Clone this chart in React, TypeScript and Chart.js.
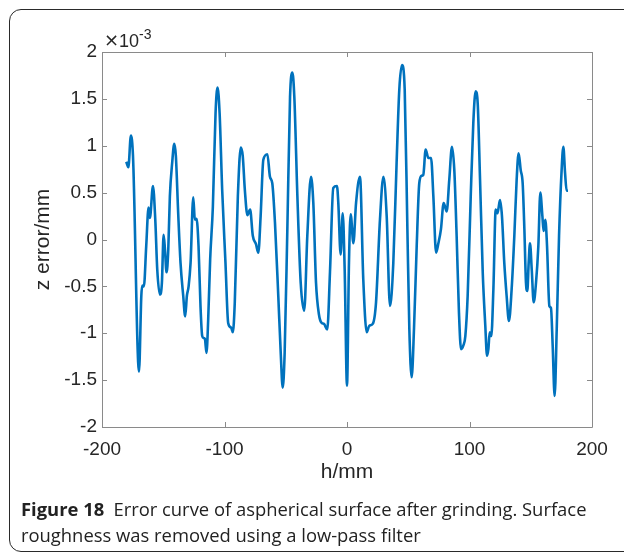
import React, { useEffect, useRef } from 'react';
import { Chart, registerables } from 'chart.js';

Chart.register(...registerables);

// h position (mm)
const hMm = [
  -180.2, -178.5, -176.4, -174.7, -169.8, -167.9, -167.1, -165.8, -163.9, -162, -160.9, -158.4, -156.5,
  -154.9, -152.7, -151.1, -149.7, -148.6, -147.3, -145.9, -144.6, -142.7, -141, -139.7, -137.8, -135.9,
  -133.7, -132.1, -130.7, -129.3, -127.7, -125.5, -124.2, -122.8, -121.2, -119.6, -118.2, -117.1, -116,
  -114.7, -113.3, -111.7, -109.5, -107.3, -105.7, -104, -101.9, -99.2, -97, -94.6, -93.2, -91.6, -89.1,
  -86.7, -85.1, -83.4, -81.3, -79.1, -76.9, -74.3, -72.4, -70.5, -68.3, -65, -62.9, -61, -58.8, -56.1,
  -54.1, -52.5, -50.9, -48.7, -46.5, -44.6, -43, -40.5, -37.8, -34.9, -32.4, -29.4, -27.5, -25.3, -22.9,
  -20.7, -18.8, -16.1, -13.9, -11.2, -8.2, -7.1, -5.2, -3.5, -1.9, 0, 1.6, 3, 5.2, 7.4, 10.6, 13.3, 16.1,
  18.2, 21, 23.7, 26.9, 29.7, 32.4, 35.1, 37.8, 40.5, 42.7, 44.9, 47.1, 49.3, 50.9, 52.8, 54.7, 56.9, 59,
  61, 62.3, 64.2, 66.4, 68.6, 70.5, 72.7, 74.6, 76.7, 78.9, 81.4, 83.5, 85.7, 87.6, 89.5, 91.4, 93.1, 95,
  96.6, 98.5, 101, 103.1, 105, 106.7, 108.6, 110.8, 112.9, 114.3, 115.4, 116.5, 117.8, 119.5, 121.4,
  122.7, 123.5, 124.9, 126.5, 128.4, 130.3, 132.2, 134.4, 136.6, 138.5, 140.1, 141.8, 143.4, 144.8,
  146.1, 147.2, 148.3, 149.4, 150.8, 152.4, 154.3, 156.2, 157.8, 159.5, 160.5, 161.9, 163.3, 165.2,
  166.5, 167.9, 169.5, 171.2, 173.1, 175.2, 176.6, 178, 179.3, 180.4,
];

// z error (x 1e-3 mm)
const zErrE3 = [
  0.83, 0.77, 1.11, 0.89, -1.41, -0.6, -0.49, -0.5, -0.07, 0.34, 0.23, 0.57, 0.21,
  -0.32, -0.59, -0.46, 0.05, -0.11, -0.35, -0.11, 0.46, 0.82, 1.02, 0.89, 0.28, -0.25,
  -0.6, -0.82, -0.6, -0.5, -0.25, 0.45, 0.21, 0.22, -0.07, -0.71, -1.03, -1.05, -1.06,
  -1.21, -0.85, -0.21, 0.35, 1.35, 1.62, 1.35, 0.53, -0.25, -0.89, -0.94, -0.99, -0.67, 0.46,
  0.98, 0.89, 0.53, 0.26, 0.32, 0.04, -0.05, -0.14, 0.25, 0.85, 0.91, 0.67, 0.6, 0.18, -0.6,
  -1.21, -1.58, -1.21, 0.11, 1.52, 1.78, 1.52, 0.46, -0.46, -0.76, 0.04, 0.67, 0.39, -0.46, -0.8,
  -0.89, -0.9, -0.96, -0.35, 0.55, 0.57, 0.39, -0.16, 0.28, -0.32, -1.56, -0.25, 0.27, -0.04, 0.39, 0.67, -0.43, -0.99,
  -0.92, -0.9, -0.67, 0.21, 0.67, 0.25, -0.71, -0.25, 0.82, 1.6, 1.86, 1.6, 0.11, -0.96, -1.47, -0.95, -0.07, 0.6,
  0.68, 0.69, 0.96, 0.87, 0.87, 0.46, -0.14, -0.04, 0.11, 0.39, 0.3, 0.64, 0.99, 0.74, 0.04, -0.78, -1.17, -1.13,
  -1.03, -0.6, 0.46, 1.24, 1.58, 1.45, 0.64, -0.35, -0.92, -1.24, -1.17, -0.99, -1.03, -0.53, 0.32,
  0.28, 0.32, 0.42, 0.25, -0.25, -0.6, -0.87, -0.53, 0.04, 0.64, 0.92, 0.74, 0.6, 0.11,
  -0.46, -0.55, -0.25, -0.04, -0.32, -0.67, -0.46, -0.07, 0.5, 0.25, 0.09, 0.21, -0.07, -0.71,
  -0.73, -1.13, -1.67, -0.96, 0.04, 0.74, 0.99, 0.71, 0.52, 0.52,
];

const xTickValues = [-200, -100, 0, 100, 200];
const yTickValues = [-2, -1.5, -1, -0.5, 0, 0.5, 1, 1.5, 2];

const AXIS_FONT = '"Liberation Sans", Arial, sans-serif';
const TEXT_COLOR = '#262626';

const boxPlugin = {
  id: 'matlabBox',
  afterDraw(chart: any) {
    const { ctx, chartArea, scales } = chart;
    const { left, right, top, bottom } = chartArea;
    const xs = scales.x;
    const ys = scales.y;
    ctx.save();
    ctx.strokeStyle = '#8a8a8a';
    ctx.lineWidth = 1;
    ctx.beginPath();
    ctx.rect(Math.round(left) + 0.5, Math.round(top) + 0.5, Math.round(right - left), Math.round(bottom - top));
    ctx.stroke();
    const tl = 5;
    ctx.beginPath();
    xTickValues.forEach((v) => {
      const px = Math.round(xs.getPixelForValue(v)) + 0.5;
      ctx.moveTo(px, bottom);
      ctx.lineTo(px, bottom - tl);
      ctx.moveTo(px, top);
      ctx.lineTo(px, top + tl);
    });
    yTickValues.forEach((v) => {
      const py = Math.round(ys.getPixelForValue(v)) + 0.5;
      ctx.moveTo(left, py);
      ctx.lineTo(left + tl, py);
      ctx.moveTo(right, py);
      ctx.lineTo(right - tl, py);
    });
    ctx.stroke();
    // exponent label
    ctx.fillStyle = TEXT_COLOR;
    ctx.textBaseline = 'alphabetic';
    ctx.textAlign = 'left';
    ctx.font = '18px "DejaVu Sans", sans-serif';
    const times = '\u00d7';
    ctx.fillText(times, left + 2, top - 6);
    const wt = ctx.measureText(times).width;
    ctx.font = '18px ' + AXIS_FONT;
    ctx.fillText('10', left + 2 + wt, top - 5);
    const w10 = ctx.measureText('10').width;
    ctx.font = '14px ' + AXIS_FONT;
    ctx.fillText('-3', left + 2 + wt + w10, top - 13);
    ctx.restore();
  },
};

export default function App() {
  const canvasRef = useRef<HTMLCanvasElement | null>(null);

  useEffect(() => {
    document.body.style.margin = '0';
    const canvas = canvasRef.current;
    if (!canvas) return;
    const chart = new Chart(canvas, {
      type: 'line',
      data: {
        datasets: [
          {
            data: hMm.map((h, i) => ({ x: h, y: zErrE3[i] })),
            borderColor: '#0072BD',
            borderWidth: 2.6,
            pointRadius: 0,
            fill: false,
            cubicInterpolationMode: 'monotone',
          },
        ],
      },
      options: {
        responsive: false,
        animation: false,
        devicePixelRatio: 1,
        layout: { padding: { left: 0, right: 32, top: 52, bottom: 0 } },
        plugins: { legend: { display: false }, tooltip: { enabled: false } },
        scales: {
          x: {
            type: 'linear',
            min: -200,
            max: 200,
            grid: { display: false, drawTicks: false },
            border: { display: false },
            afterBuildTicks: (s: any) => {
              s.ticks = xTickValues.map((v) => ({ value: v }));
            },
            afterFit: (s: any) => {
              s.height = 128;
            },
            ticks: {
              padding: 11,
              color: TEXT_COLOR,
              font: { family: AXIS_FONT, size: 19 },
              maxRotation: 0,
              autoSkip: false,
              callback: (v: any) => String(v),
            },
            title: {
              display: true,
              text: 'h/mm',
              color: TEXT_COLOR,
              font: { family: AXIS_FONT, size: 21 },
              padding: { top: 0, bottom: 70 },
            },
          },
          y: {
            type: 'linear',
            min: -2,
            max: 2,
            grid: { display: false, drawTicks: false },
            border: { display: false },
            afterBuildTicks: (s: any) => {
              s.ticks = yTickValues.map((v) => ({ value: v }));
            },
            afterFit: (s: any) => {
              s.width = 102;
            },
            ticks: {
              padding: 5,
              color: TEXT_COLOR,
              font: { family: AXIS_FONT, size: 19 },
              autoSkip: false,
              callback: (v: any) => String(v),
            },
            title: {
              display: true,
              text: 'z error/mm',
              color: TEXT_COLOR,
              font: { family: AXIS_FONT, size: 21 },
              padding: { top: 31, bottom: 0 },
            },
          },
        },
      },
      plugins: [boxPlugin],
    } as any);
    return () => chart.destroy();
  }, []);

  return (
    <div style={{ position: 'absolute', left: 0, top: 0, width: 624, height: 555, overflow: 'hidden', background: '#fff' }}>
      <div
        style={{
          position: 'absolute',
          left: 9,
          top: 9,
          width: 700,
          height: 543,
          border: '1.6px solid #2a2a2a',
          borderRadius: 12,
          boxSizing: 'border-box',
        }}
      />
      <canvas ref={canvasRef} width={624} height={555} style={{ position: 'absolute', left: 0, top: 0, width: 624, height: 555 }} />
      <div
        style={{
          position: 'absolute',
          left: 21,
          top: 496,
          fontFamily: '"Open Sans", "Noto Sans", sans-serif',
          fontSize: 18.4,
          lineHeight: '26px',
          color: '#222',
          whiteSpace: 'nowrap',
        }}
      >
        <span style={{ fontWeight: 700 }}>Figure 18</span>
        {'\u2002Error curve of aspherical surface after grinding. Surface'}
        <br />
        roughness was removed using a low-pass filter
      </div>
    </div>
  );
}
